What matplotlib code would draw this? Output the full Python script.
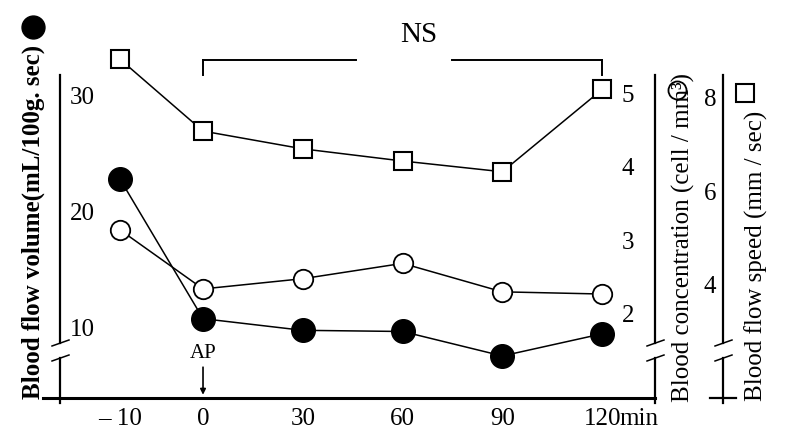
import numpy as np
import matplotlib
matplotlib.use("Agg")
import matplotlib.pyplot as plt
import matplotlib.transforms as mtransforms
from matplotlib.lines import Line2D

# time points (min); -10 is drawn on a compressed part of the axis
times = [-10, 0, 30, 60, 90, 120]
time_labels = ['– 10', '0', '30', '60', '90', '120']
volume = [22.8, 10.8, 9.8, 9.7, 7.6, 9.5]          # filled circles, mL/100g.sec
concentration = [3.14, 2.33, 2.47, 2.68, 2.29, 2.26]  # open circles, cell/mm3
speed = [8.83, 7.29, 6.91, 6.65, 6.42, 8.18]        # squares, mm/sec

vol_ticks = [10, 20, 30]
conc_ticks = [2, 3, 4, 5]
speed_ticks = [4, 6, 8]

plt.rcParams['font.family'] = ['Liberation Serif', 'DejaVu Serif']
FS = 18


def xpos(t):
    # the pre-treatment point sits closer than its real distance
    return -25 if t == -10 else t


W, H = 786, 445
fig = plt.figure(figsize=(W / 100, H / 100), dpi=100)
ax = fig.add_axes([60 / W, 47 / H, 595 / W, 323 / H])
ax2 = ax.twinx()
ax3 = ax.twinx()
ax3.spines['right'].set_position(('axes', 1.1143))

for a in (ax, ax2, ax3):
    for s in a.spines.values():
        s.set_visible(False)
    a.patch.set_visible(False)

xs = [xpos(t) for t in times]
ax.set_xlim(-43.0, 135.9)
ax.set_ylim(3.99, 31.72)
ax2.set_ylim(0.836, 5.26)
ax3.set_ylim(1.58, 8.49)

ax.plot(xs, volume, '-', color='black', lw=1.1, marker='o', ms=17,
        mfc='black', mec='black', zorder=3, clip_on=False)
ax2.plot(xs, concentration, '-', color='black', lw=1.1, marker='o', ms=14,
         mfc='white', mec='black', mew=1.3, zorder=3, clip_on=False)
ax3.plot(xs, speed, '-', color='black', lw=1.1, marker='s', ms=13.5,
         mfc='white', mec='black', mew=1.5, zorder=3, clip_on=False)

# x axis
ax.set_xticks(xs)
ax.set_xticklabels(time_labels, fontsize=FS)
ax.tick_params(axis='x', length=0, pad=7)
ax.annotate('min', xy=(120, 0), xycoords=('data', 'axes fraction'),
            xytext=(12.5, -7), textcoords='offset points', ha='left', va='top',
            fontsize=FS)

# y axes: labels only, placed beside each axis line
ax.set_yticks(vol_ticks)
ax.set_yticklabels([str(v) for v in vol_ticks], fontsize=FS)
ax.tick_params(axis='y', length=0, pad=-7)
for lab in ax.get_yticklabels():
    lab.set_horizontalalignment('left')

ax2.set_yticks(conc_ticks)
ax2.set_yticklabels([str(v) for v in conc_ticks], fontsize=FS)
ax2.tick_params(axis='y', length=0, pad=-15)
for lab in ax2.get_yticklabels():
    lab.set_horizontalalignment('right')

ax3.set_yticks(speed_ticks)
ax3.set_yticklabels([str(v) for v in speed_ticks], fontsize=FS)
ax3.tick_params(axis='y', length=0, pad=-5)
for lab in ax3.get_yticklabels():
    lab.set_horizontalalignment('right')

# broken vertical axis lines drawn in axes coords
dx, dy = 1 / 595, 1 / 323
brk_hi, brk_lo = 55 * dy, 40 * dy


def broken_axis(x0):
    kw = dict(transform=ax.transAxes, color='black', lw=1.6, clip_on=False)
    ax.plot([x0, x0], [brk_hi, 1.0], **kw)
    ax.plot([x0, x0], [-5 * dy, brk_lo], **kw)
    for yb in (brk_hi, brk_lo):
        ax.plot([x0 - 8 * dx, x0 + 9 * dx], [yb - 3 * dy, yb + 3 * dy],
                transform=ax.transAxes, color='black', lw=1.1, clip_on=False)


broken_axis(0.0)
broken_axis(1.0)
broken_axis(1.1143)
ax.plot([-17 * dx, 1.0], [0, 0], transform=ax.transAxes, color='black',
        lw=2.2, clip_on=False)
ax.plot([1.1143 - 13 * dx, 1.1143 + 13 * dx], [0, 0], transform=ax.transAxes,
        color='black', lw=1.6, clip_on=False)

# AP arrow
ax.annotate('AP', xy=(0, 0.01), xycoords=('data', 'axes fraction'),
            xytext=(0, 35 * dy), textcoords=('data', 'axes fraction'),
            ha='center', va='bottom', fontsize=15,
            arrowprops=dict(arrowstyle='-|>', color='black', lw=1.2,
                            mutation_scale=8, shrinkA=1, shrinkB=0))

# NS bracket
bt = mtransforms.blended_transform_factory(ax.transData, ax.transAxes)
ytop = 1 + 15 * dy
kw = dict(transform=bt, color='black', lw=1.4, clip_on=False)
ax.plot([0, 0], [1.0, ytop], **kw)
ax.plot([0, 46], [ytop, ytop], **kw)
ax.plot([75, 120], [ytop, ytop], **kw)
ax.plot([120, 120], [1.0, ytop], **kw)
ax.text(65, 1 + 40 * dy, 'NS', transform=bt, ha='center', va='center',
        fontsize=21)

# axis titles with their series symbols
fig.text(33 / W, 1 - 222 / H, 'Blood flow volume(mL/100g. sec)', rotation=90,
         ha='center', va='center', fontsize=FS, fontweight='bold')
fig.text(683 / W, 1 - 238 / H, 'Blood concentration (cell / mm³)', rotation=90,
         ha='center', va='center', fontsize=FS)
fig.text(756 / W, 1 - 256 / H, 'Blood flow speed (mm / sec)', rotation=90,
         ha='center', va='center', fontsize=FS)
fig.add_artist(Line2D([33 / W], [1 - 27 / H], transform=fig.transFigure,
                      marker='o', ms=16.5, mfc='black', mec='black'))
fig.add_artist(Line2D([677 / W], [1 - 90 / H], transform=fig.transFigure,
                      marker='o', ms=13, mfc='none', mec='black', mew=1.3))
fig.add_artist(Line2D([745 / W], [1 - 93 / H], transform=fig.transFigure,
                      marker='s', ms=12.5, mfc='white', mec='black', mew=1.5))

fig.savefig('out.png', dpi=100)
